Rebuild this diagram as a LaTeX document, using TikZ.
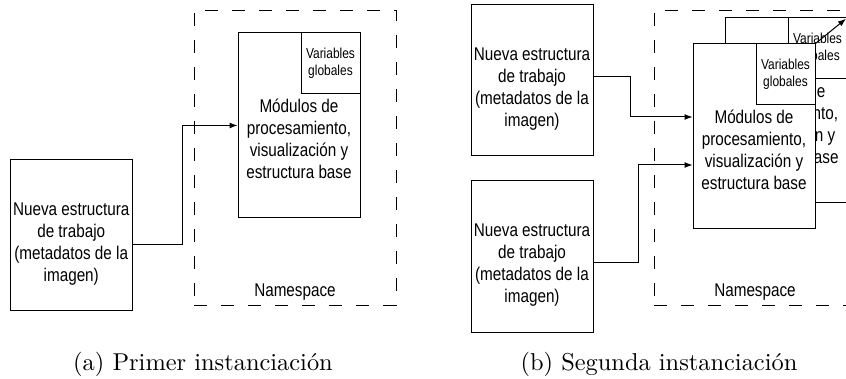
\documentclass[tikz,border=0pt]{standalone}
\usepackage{fontspec}
\usetikzlibrary{positioning,arrows.meta}
\newfontfamily\diagfont{Liberation Sans}[FakeStretch=0.83]
\newfontfamily\capfont{lmroman10-regular.otf}

\begin{document}
\begin{tikzpicture}[x=1pt, y=-1pt,
    trabajo/.style={draw, line width=1pt, minimum width=122pt, minimum height=151pt, inner sep=0pt},
    modulo/.style={draw, fill=white, line width=1pt, minimum width=122pt, minimum height=185pt, inner sep=0pt},
    globales/.style={draw, fill=white, line width=1pt, minimum width=59pt, minimum height=61pt, inner sep=0pt, align=center, font=\diagfont\fontsize{14.4}{17.3}\selectfont},
    texto/.style={inner sep=0pt, align=center, font=\diagfont\fontsize{18.4}{22}\selectfont},
    namespace/.style={draw, line width=0.9pt, dash pattern=on 13pt off 14pt, minimum width=202pt, minimum height=295pt, inner sep=0pt},
    leyenda/.style={inner sep=0pt, anchor=base, font=\capfont\fontsize{24.4}{29}\selectfont},
    flecha/.style={-{Latex[length=8pt,width=6pt]}, line width=1pt}
]
\useasboundingbox (0,0) rectangle (846,379);
\clip (0,0) rectangle (846,379);

% (a) primer instanciacion
\node[namespace] (nsA) at (295,157.5) {};
\node[texto] (nsAtxt) at ([yshift=13pt]nsA.south) {Namespace};

\node[trabajo] (trabajoA) at (71.25,235.5) {};
\node[texto] (trabajoAtxt) at ([yshift=-9pt]trabajoA.center) {Nueva estructura\\de trabajo\\(metadatos de la\\imagen)};

\node[modulo] (moduloA) at (299,125.5) {};
\node[texto] (moduloAtxt) at ([yshift=-13.7pt]moduloA.center) {Módulos de\\procesamiento,\\visualización y\\estructura base};
\node[globales, anchor=north east] (globalesA) at (moduloA.north east) {Variables\\globales};

\draw[flecha] ([yshift=-9pt]trabajoA.east) -- ++(50,0) |- (moduloA.west);

\node[leyenda] (leyendaA) at (203,370.7) {(a) Primer instanciación};

% (b) segunda instanciacion
\node[namespace] (nsB) at (755,157.5) {};
\node[texto] (nsBtxt) at ([yshift=13pt]nsB.south) {Namespace};

\node[trabajo] (trabajoB1) at (532,80.5) {};
\node[texto] (trabajoB1txt) at ([yshift=-9pt]trabajoB1.center) {Nueva estructura\\de trabajo\\(metadatos de la\\imagen)};
\node[trabajo, below=24pt of trabajoB1] (trabajoB2) {};
\node[texto] (trabajoB2txt) at ([yshift=-9pt]trabajoB2.center) {Nueva estructura\\de trabajo\\(metadatos de la\\imagen)};

% copia de atras
\node[modulo] (moduloBb) at (786,110.5) {};
\node[texto] (moduloBbtxt) at ([yshift=-13.7pt]moduloBb.center) {Módulos de\\procesamiento,\\visualización y\\estructura base};
\node[globales, anchor=north east] (globalesBb) at (moduloBb.north east) {Variables\\globales};

\node[modulo] (moduloB) at (754,136.5) {};
\node[texto] (moduloBtxt) at ([yshift=-13.7pt]moduloB.center) {Módulos de\\procesamiento,\\visualización y\\estructura base};
\node[globales, anchor=north east] (globalesB) at (moduloB.north east) {Variables\\globales};

\draw[flecha] ([yshift=3.5pt]trabajoB1.east) -- ++(37,0) |- ([yshift=19.5pt]moduloB.west);
\draw[flecha] ([yshift=-6pt]trabajoB2.east) -- ++(45,0) |- ([yshift=-28.5pt]moduloB.west);
\draw[flecha, shorten >=2pt] (moduloB.north east) -- (moduloBb.north east);

\node[leyenda] (leyendaB) at (659,370.7) {(b) Segunda instanciación};

\end{tikzpicture}
\end{document}
